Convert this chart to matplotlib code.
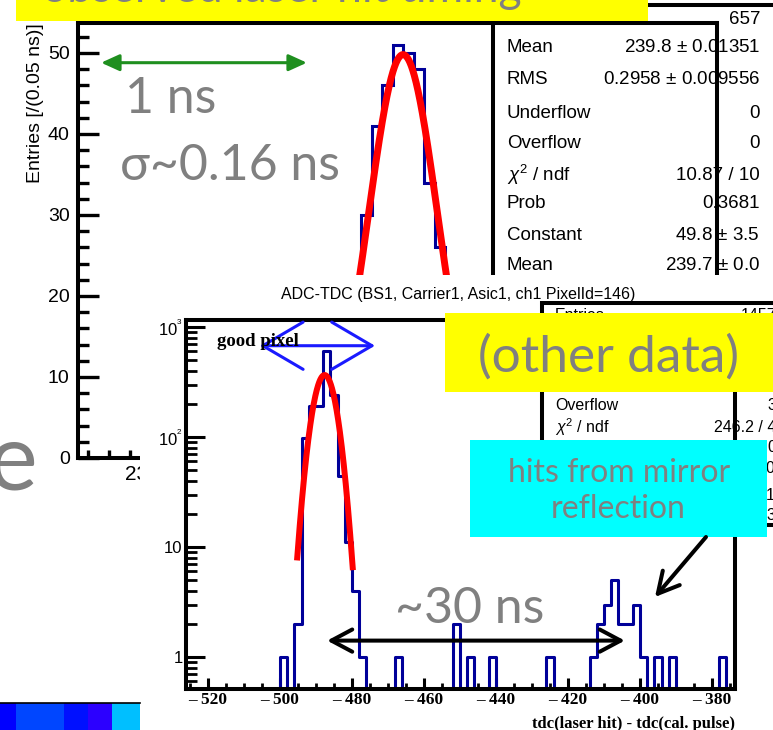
import matplotlib
matplotlib.use("Agg")
import matplotlib.pyplot as plt
import numpy as np
from matplotlib.patches import Rectangle
from matplotlib.ticker import MultipleLocator, LogLocator, FuncFormatter, NullFormatter

plt.rcParams['font.family'] = ['Liberation Sans', 'DejaVu Sans']
plt.rcParams['mathtext.fontset'] = 'custom'
plt.rcParams['mathtext.rm'] = 'Liberation Sans'
plt.rcParams['mathtext.it'] = 'Liberation Sans:italic'
plt.rcParams['mathtext.bf'] = 'Liberation Sans:bold'

# upper histogram (ns, 0.05 ns bins) - only the bins that stick out above the lower picture
top_edges = [239.50, 239.55, 239.60, 239.65, 239.70, 239.75, 239.80, 239.85, 239.90]
top_counts = [30, 41, 46, 51, 50, 48, 34, 26]
top_const, top_mean, top_sigma = 49.8, 239.70, 0.164

# lower histogram: tdc(laser hit) - tdc(cal. pulse), bins of 2, non empty bins only
bot_bin_lo = [-500, -496, -494, -492, -490, -488, -486, -484, -482, -480, -478,
              -468, -452, -448, -442, -426, -414, -412, -410, -408, -406, -404,
              -402, -400, -396, -392, -378]
bot_counts = [1, 2, 97, 191, 191, 609, 240, 44, 11, 4, 1,
              1, 2, 1, 1, 1, 1, 2, 3, 5, 2, 2,
              3, 1, 1, 1, 1]
bot_const, bot_mean, bot_sigma = 366.0, -487.6, 2.75
bot_fit_lo, bot_fit_hi = -495.2, -479.8

top_stats = [("Entries", "657"), ("Mean", "239.8 $\\pm$ 0.01351"),
             ("RMS", "0.2958 $\\pm$ 0.009556"), ("Underflow", "0"), ("Overflow", "0"),
             ("$\\chi^{2}$ / ndf", "10.87 / 10"), ("Prob", "0.3681"),
             ("Constant", "49.8 $\\pm$ 3.5"), ("Mean", "239.7 $\\pm$ 0.0")]
bot_stats = [("Entries", "1457"), ("Overflow", "3"), ("$\\chi^{2}$ / ndf", "246.2 / 4"),
             ("Prob", "0"), ("Constant", "366.0 $\\pm$ 10.0"), ("Mean", "-487.6 $\\pm$ 0.1"),
             ("Sigma", "2.75 $\\pm$ 0.03")]

W, H = 773, 730
fig = plt.figure(figsize=(W / 100, H / 100), dpi=100)
GRAY = '#808080'
NAVY = '#000099'
BIG = ['Lato', 'DejaVu Sans']


def rect(l, t, r, b):
    return [l / W, 1 - b / H, (r - l) / W, (b - t) / H]


def canvas(z):
    c = fig.add_axes([0, 0, 1, 1], zorder=z)
    c.set_xlim(0, W)
    c.set_ylim(H, 0)
    c.axis('off')
    return c


def gauss(x, a, m, s):
    return a * np.exp(-0.5 * ((x - m) / s) ** 2)


def slide_text(c, x, y, s, size, **kw):
    c.text(x, y, s, fontsize=size, color=GRAY, family=BIG, va='baseline', **kw)


# ---- layer 1 : stats box of the upper plot
c1 = canvas(1)
c1.add_patch(Rectangle((493, 5), 320, 320, fc='white', ec='black', lw=2.9))
for (lab, val), y in zip(top_stats, [19, 48, 80, 114, 144, 175, 204, 235, 265]):
    c1.text(507, y, lab, fontsize=13.5, va='center')
    c1.text(760, y, val, fontsize=13.5, va='center', ha='right')

# ---- layer 2 : upper plot
ax1 = fig.add_axes(rect(78, 23, 717, 458), zorder=2)
ax1.set_facecolor('none')
ax1.stairs(top_counts, top_edges, color=NAVY, lw=2.2)
xs = np.linspace(239.35, 240.05, 400)
ax1.plot(xs, gauss(xs, top_const, top_mean, top_sigma), color='red', lw=5)
ax1.set_xlim(238.152, 241.195)
ax1.set_ylim(0, 53.7)
ax1.yaxis.set_major_locator(MultipleLocator(10))
ax1.yaxis.set_minor_locator(MultipleLocator(2))
ax1.xaxis.set_major_locator(MultipleLocator(0.5))
ax1.xaxis.set_minor_locator(MultipleLocator(0.1))
ax1.tick_params(which='both', direction='in', top=False, right=False)
ax1.tick_params(axis='y', which='major', length=15, width=2.4, pad=6, labelsize=14)
ax1.tick_params(axis='y', which='minor', length=8, width=2.4)
ax1.tick_params(axis='x', which='major', length=12, width=2.4, pad=5, labelsize=15)
ax1.tick_params(axis='x', which='minor', length=6, width=2.4)
for s in ax1.spines.values():
    s.set_linewidth(2.9)
ax1.set_ylabel('Entries [/(0.05 ns)]', fontsize=14, loc='top', labelpad=3)
ax1.annotate('', xy=(238.262, 48.8), xytext=(239.242, 48.8),
             arrowprops=dict(arrowstyle='<|-|>, head_length=1.1, head_width=0.5',
                             color='#1f8f1f', lw=2.2, shrinkA=0, shrinkB=0,
                             mutation_scale=10))

# ---- layer 3 : white background of the lower picture + its stats box
c3 = canvas(3)
c3.add_patch(Rectangle((140, 275), 700, 500, fc='white', ec='none'))
c3.text(458, 295, 'ADC-TDC (BS1, Carrier1, Asic1, ch1 PixelId=146)',
        fontsize=11.5, ha='center', va='center')
c3.add_patch(Rectangle((542, 303), 300, 222, fc='white', ec='black', lw=2.9))
for (lab, val), y in zip(bot_stats, [316, 406, 427, 447, 468, 495, 515]):
    c3.text(555, y, lab, fontsize=11.5, va='center')
    c3.text(776, y, val, fontsize=11.5, va='center', ha='right')

# ---- layer 4 : lower plot
ax2 = fig.add_axes(rect(186, 320, 735, 689), zorder=4)
ax2.set_facecolor('none')
edges = np.arange(-526, -372, 2)
counts = np.zeros(len(edges) - 1)
for lo, n in zip(bot_bin_lo, bot_counts):
    counts[(lo + 526) // 2] = n
vals = np.where(counts > 0, counts, 0.05)
ax2.step(edges, np.append(vals, vals[-1]), where='post', color=NAVY, lw=2.2)
xf = np.linspace(bot_fit_lo, bot_fit_hi, 200)
ax2.plot(xf, gauss(xf, bot_const, bot_mean, bot_sigma), color='red', lw=4.3)
ax2.set_yscale('log')
ax2.set_xlim(-526.1, -373.6)
ax2.set_ylim(0.512, 1158)
ax2.xaxis.set_major_locator(MultipleLocator(20))
ax2.xaxis.set_minor_locator(MultipleLocator(5))
ax2.xaxis.set_major_formatter(FuncFormatter(lambda v, p: '\u2013 %d' % abs(v)))
ax2.yaxis.set_major_locator(LogLocator(base=10, numticks=10))
ax2.yaxis.set_minor_locator(LogLocator(base=10, subs=np.arange(2, 10), numticks=20))
ax2.yaxis.set_minor_formatter(NullFormatter())
ylab = {1: '1', 10: '10', 100: '$10^{^{2}}$', 1000: '$10^{^{3}}$'}
ax2.yaxis.set_major_formatter(FuncFormatter(lambda v, p: ylab.get(int(round(v)), '')))
ax2.tick_params(which='both', direction='in', top=False, right=False)
ax2.tick_params(axis='x', which='major', length=8, width=2.2, pad=2, labelsize=12.5)
ax2.tick_params(axis='x', which='minor', length=4, width=2)
ax2.tick_params(axis='y', which='major', length=14, width=2.2, pad=2.5, labelsize=12)
ax2.tick_params(axis='y', which='minor', length=8, width=2)
plt.setp(ax2.get_xticklabels(), fontfamily='Liberation Serif', fontweight='bold')
for s in ax2.spines.values():
    s.set_linewidth(2.9)
ax2.set_xlabel('tdc(laser hit) - tdc(cal. pulse)', loc='right', fontsize=12,
               fontfamily='Liberation Serif', fontweight='bold', labelpad=6)
ax2.annotate('', xy=(-505.6, 676), xytext=(-473.6, 676),
             arrowprops=dict(arrowstyle='<->, head_length=2.9, head_width=1.7',
                             color='#1a1aff', lw=2.2, shrinkA=0, shrinkB=0,
                             mutation_scale=10))
ax2.annotate('', xy=(-486.9, 1.41), xytext=(-404.2, 1.41),
             arrowprops=dict(arrowstyle='<->, head_length=1.5, head_width=0.8',
                             color='black', lw=2.9, shrinkA=0, shrinkB=0,
                             mutation_scale=10))

# ---- layer 5 : slide overlays
c5 = canvas(5)
c5.add_patch(Rectangle((16, -5), 632, 26, fc='#ffff00', ec='none'))
slide_text(c5, 42, 2, 'observed laser hit timing', 32)
slide_text(c5, 125, 113, '1 ns', 36)
slide_text(c5, 120, 180, '\u03c3~0.16 ns', 36)
slide_text(c5, -13, 490, 'e', 68)
c5.text(217, 346, 'good pixel', fontsize=13.5, family='Liberation Serif',
        fontweight='bold', va='baseline')
slide_text(c5, 395, 623, '~30 ns', 36)
c5.add_patch(Rectangle((445, 313), 340, 79, fc='#ffff00', ec='none'))
slide_text(c5, 609, 372, '(other data)', 37, ha='center')
c5.add_patch(Rectangle((470, 440), 297, 97, fc='#00ffff', ec='none'))
slide_text(c5, 619, 482, 'hits from mirror', 23, ha='center')
slide_text(c5, 618, 518, 'reflection', 23, ha='center')
c5.annotate('', xy=(655, 597), xytext=(706, 537),
            arrowprops=dict(arrowstyle='->, head_length=1.5, head_width=0.8',
                            color='black', lw=2.9, shrinkA=0, shrinkB=0,
                            mutation_scale=10))
# colour strip bottom left
x0 = 0
for w, col in zip([16, 48, 24, 24, 28], ['#0000ff', '#0046ff', '#0010ff', '#2c00ff', '#00bfff']):
    c5.add_patch(Rectangle((x0, 703), w, 30, fc=col, ec='none'))
    x0 += w
c5.plot([0, 140], [703, 703], color='black', lw=1.2)

fig.savefig('out.png', dpi=100)
